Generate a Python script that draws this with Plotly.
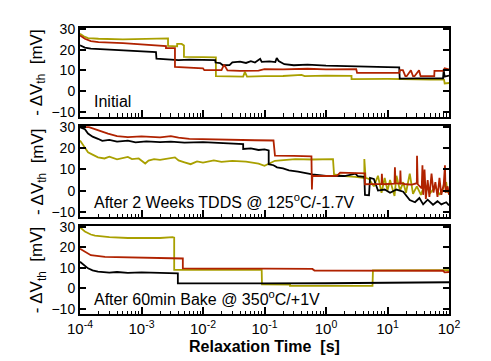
import plotly.graph_objects as go

# ---------------- data ----------------
# Panel 1: Initial
P1_BLACK_T = [1e-4, 1.2e-4, 1.5e-4, 2.5e-4, 4e-4, 7e-4, 1e-3, 1.4e-3, 1.72e-3, 1.75e-3, 2.5e-3, 4e-3, 6e-3,
              1e-2, 1.58e-2, 1.6e-2, 1.9e-2, 2.1e-2, 2.7e-2, 3e-2, 4e-2, 5e-2, 6e-2, 7e-2, 8.5e-2, 9e-2,
              0.12, 0.15, 0.158, 0.17, 0.21, 0.3, 0.5, 1.0, 2.0, 5.0, 10.0, 15.5, 15.8, 30.0, 60.0, 80.0,
              82.0, 85.0, 100.0]
P1_BLACK_V = [22.1, 21.0, 20.5, 20.2, 20.0, 19.6, 19.3, 19.1, 18.9, 15.7, 15.3, 15.0, 15.2,
              15.0, 15.0, 13.8, 13.5, 12.5, 12.6, 13.9, 14.2, 13.6, 14.5, 13.8, 15.6, 14.1,
              14.4, 14.0, 16.0, 14.5, 13.0, 12.5, 12.8, 12.3, 12.0, 11.8, 11.6, 11.5, 6.0, 6.1, 6.0, 6.2,
              10.0, 7.0, 7.5]

P1_RED_T = [1e-4, 1.2e-4, 1.5e-4, 2e-4, 5e-4, 1e-3, 1.85e-3, 2.5e-3, 2.5e-3, 3.5e-3, 3.5e-3, 6e-3, 1e-2,
            1.05e-2, 2e-2, 2.2e-2, 2.5e-2, 4e-2, 8e-2, 0.1, 0.2, 0.5, 1.0, 3.1, 3.2, 15.5,
            16.0, 17.8, 19.5, 20.5, 24.0, 26.0, 27.5, 32.6, 34.5, 57.6, 58.0, 80.0, 85.0, 100.0]
P1_RED_V = [26.9, 25.3, 24.2, 23.7, 23.2, 22.5, 21.8, 21.8, 20.8, 20.8, 11.7, 11.5, 11.0,
            10.1, 10.1, 12.8, 10.0, 9.8, 9.9, 10.6, 10.5, 10.8, 10.5, 10.6, 8.8, 8.8,
            10.1, 10.1, 7.2, 7.2, 10.1, 7.2, 7.2, 10.1, 7.2, 7.2, 9.8, 9.8, 11.0, 10.5]

P1_YEL_T = [1e-4, 1.15e-4, 1.35e-4, 2e-4, 5e-4, 1e-3, 2e-3, 2.7e-3, 2.7e-3, 3.8e-3, 3.8e-3, 4.5e-3, 4.9e-3,
            4.9e-3, 1e-2, 1.62e-2, 1.62e-2, 3e-2, 4.5e-2, 4.8e-2, 5.2e-2, 0.1, 0.2, 0.4, 0.45, 1.0, 2.6,
            2.6, 10.0, 50.0, 83.0, 85.0, 100.0]
P1_YEL_V = [27.7, 26.5, 25.6, 25.3, 25.0, 25.2, 25.4, 25.5, 21.8, 21.6, 22.8, 22.8, 22.0,
            16.5, 16.4, 16.3, 7.2, 6.9, 7.0, 9.3, 7.0, 7.2, 7.3, 7.8, 7.2, 7.5, 7.4,
            5.8, 5.9, 5.6, 5.5, 3.7, 3.9]

# Panel 2: After 2 weeks TDDS
P2_BLACK_T = [1e-4, 1.2e-4, 1.35e-4, 1.6e-4, 1.96e-4, 2.3e-4, 3e-4, 4e-4, 6e-4, 8e-4, 1.2e-3, 2e-3, 3e-3,
              5e-3, 1e-2, 2e-2, 3e-2, 4e-2, 4.5e-2, 4.5e-2, 6e-2, 8e-2, 0.1, 0.117, 0.117, 0.14, 0.16,
              0.2, 0.25, 0.35, 0.5, 0.6, 1.0, 2.0, 3.0, 3.3, 4.2, 4.3, 5.0, 5.2, 6.0, 7.0, 9.0, 11.0,
              14.0, 18.0, 23.0, 28.0, 33.0, 38.0, 45.0, 55.0, 65.0, 75.0, 90.0, 100.0]
P2_BLACK_V = [30.0, 29.0, 27.0, 25.5, 24.5, 23.5, 24.0, 23.2, 23.6, 22.8, 23.3, 22.9, 23.2,
              22.7, 22.9, 22.5, 22.3, 22.4, 22.0, 19.7, 20.0, 19.2, 19.5, 19.0, 12.5, 12.0, 11.0,
              10.5, 9.6, 9.0, 8.2, 7.7, 7.0, 6.9, 8.0, 6.8, 6.5, -2.0, -2.2, 6.0, 5.5, 0.0, 0.5, -1.0,
              0.5, -0.5, -4.5, -5.5, -3.5, -6.5, -4.3, -6.7, -5.0, -6.5, -5.5, -7.0]

P2_RED_T = [1e-4, 1.4e-4, 2e-4, 2.85e-4, 4e-4, 6e-4, 1e-3, 2e-3, 3e-3, 4e-3, 6e-3, 1e-2, 3e-2, 7e-2,
            0.14, 0.148, 0.3, 0.58, 0.59, 0.6, 1.0, 1.5, 1.7, 3.0, 4.3, 4.3, 6.0, 8.0, 8.1, 8.3, 13.0,
            13.2, 13.5, 16.0, 16.2, 16.5, 20.0, 25.0, 30.0, 30.2, 31.0, 36.0, 37.0, 38.0, 40.0, 42.0,
            45.0, 48.0, 52.0, 56.0, 60.0, 65.0, 70.0, 75.0, 82.0, 86.0, 88.0, 95.0, 100.0]
P2_RED_V = [30.0, 30.0, 28.5, 26.9, 25.8, 25.3, 25.6, 25.2, 25.8, 25.0, 24.5, 24.3, 23.9, 23.8,
            23.7, 16.5, 16.4, 16.2, 0.5, 6.9, 6.9, 7.0, 8.5, 8.3, 8.2, 3.0, 3.0, 3.2, 8.0, 3.0, 3.3,
            11.0, 3.5, 3.2, 9.5, 3.5, 3.0, 2.8, 3.5, 16.5, 3.0, 1.0, 12.0, -2.0, 10.0, -4.0,
            5.0, -3.0, 8.0, -1.0, 4.0, -3.0, 6.0, -2.0, 3.0, 12.0, -1.0, 2.0, -2.0]

P2_YEL_T = [1e-4, 1.2e-4, 1.35e-4, 1.6e-4, 1.96e-4, 2.5e-4, 3e-4, 4e-4, 5e-4, 6e-4, 7e-4, 9e-4, 1.15e-3,
            1.3e-3, 1.6e-3, 2e-3, 3.5e-3, 4e-3, 5e-3, 6.3e-3, 8e-3, 1e-2, 1.5e-2, 2e-2, 3e-2, 5e-2,
            8e-2, 0.1, 0.148, 0.2, 0.316, 0.6, 1.0, 1.3, 1.35, 2.0, 3.0, 4.2, 4.2, 4.4, 5.0, 6.0, 7.0,
            8.0, 9.0, 10.0, 11.0, 13.0, 14.0, 16.0, 18.0, 20.0, 23.0, 26.0, 30.0, 35.0, 40.0, 50.0,
            60.0, 70.0, 80.0, 90.0, 95.0, 100.0]
P2_YEL_V = [23.7, 20.5, 18.1, 17.0, 15.7, 15.2, 16.0, 14.8, 15.3, 15.9, 14.9, 15.2, 12.8,
            14.2, 14.9, 14.5, 15.7, 14.3, 13.4, 12.5, 13.8, 13.2, 14.3, 13.6, 14.1, 13.7,
            12.8, 11.7, 14.1, 14.5, 14.9, 14.7, 15.0, 14.9, 7.7, 6.8, 6.5, 6.0, 14.9, 6.0, 5.5, 2.0, 7.0,
            -1.0, 6.0, 0.0, 5.0, -2.5, 7.0, 0.0, 4.0, -1.0, 8.0, -1.5, 2.0, -2.0, 3.0, -1.0,
            2.0, -2.0, 1.0, 4.0, -1.0, 0.0]

# Panel 3: After 60 min bake
P3_BLACK_T = [1e-4, 1.15e-4, 1.35e-4, 1.6e-4, 1.96e-4, 3e-4, 4e-4, 6e-4, 1e-3, 2e-3, 3.6e-3, 3.9e-3, 3.9e-3,
              1e-2, 0.1, 1.0, 10.0, 50.0, 100.0]
P3_BLACK_V = [13.0, 11.5, 9.8, 8.8, 8.2, 7.7, 8.0, 7.6, 7.8, 7.6, 7.5, 7.3, 2.5,
              2.4, 2.4, 2.5, 2.6, 2.9, 3.0]

P3_RED_T = [1e-4, 1.2e-4, 1.5e-4, 2.55e-4, 5e-4, 1e-3, 2e-3, 4.7e-3, 4.7e-3, 1e-2, 0.1, 0.6, 0.65,
            10.0, 80.0, 85.0, 100.0]
P3_RED_V = [19.4, 17.8, 16.2, 15.4, 15.2, 14.8, 14.7, 14.6, 9.8, 9.6, 9.6, 9.5, 8.7,
            8.6, 8.6, 7.8, 8.0]

P3_YEL_T = [1e-4, 1.2e-4, 1.5e-4, 1.75e-4, 3e-4, 6e-4, 1e-3, 2e-3, 3.2e-3, 3.4e-3, 3.4e-3, 9e-2, 9.1e-2,
            0.26, 0.26, 5.7, 5.8, 100.0]
P3_YEL_V = [29.8, 27.8, 26.3, 25.8, 25.0, 24.6, 24.7, 24.6, 25.0, 24.8, 9.0, 9.0, 2.0,
            1.9, 1.2, 1.2, 8.8, 8.9]

PANEL_LABELS = ["Initial",
                "After 2 Weeks TDDS @ 125<sup>o</sup>C/-1.7V",
                "After 60min Bake @ 350<sup>o</sup>C/+1V"]
X_TICK_VALS = [1e-4, 1e-3, 1e-2, 1e-1, 1e0, 1e1, 1e2]
X_TICK_TEXT = ["10<sup>-4</sup>", "10<sup>-3</sup>", "10<sup>-2</sup>", "10<sup>-1</sup>",
               "10<sup>0</sup>", "10<sup>1</sup>", "10<sup>2</sup>"]
Y_TICK_VALS = [-10, 0, 10, 20, 30]
Y_TITLE = "- ΔV<sub>th</sub>\u00a0 [mV]"
X_TITLE = "<b>Relaxation Time\u00a0 [s]</b>"

# ---------------- figure ----------------
BLACK = "#000000"
RED = "#B02200"
YEL = "#A9A000"
FONT = "Liberation Sans, Arial, Helvetica, sans-serif"

panels = [
    [(P1_YEL_T, P1_YEL_V, YEL), (P1_BLACK_T, P1_BLACK_V, BLACK), (P1_RED_T, P1_RED_V, RED)],
    [(P2_YEL_T, P2_YEL_V, YEL), (P2_BLACK_T, P2_BLACK_V, BLACK), (P2_RED_T, P2_RED_V, RED)],
    [(P3_YEL_T, P3_YEL_V, YEL), (P3_BLACK_T, P3_BLACK_V, BLACK), (P3_RED_T, P3_RED_V, RED)],
]
domains = [[0.689, 1.0], [0.339, 0.657], [0.0, 0.308]]

fig = go.Figure()
for i, series in enumerate(panels):
    xa = "x" if i == 0 else f"x{i+1}"
    ya = "y" if i == 0 else f"y{i+1}"
    for t, v, c in series:
        fig.add_trace(go.Scatter(x=t, y=v, mode="lines", xaxis=xa, yaxis=ya,
                                 line=dict(color=c, width=1.8), hoverinfo="skip"))

layout = dict(width=491, height=361, margin=dict(l=80, r=42, t=28, b=47),
              paper_bgcolor="white", plot_bgcolor="white", showlegend=False,
              font=dict(family=FONT, color="black", size=14))
annotations = []
for i in range(3):
    xk = "xaxis" if i == 0 else f"xaxis{i+1}"
    yk = "yaxis" if i == 0 else f"yaxis{i+1}"
    ya = "y" if i == 0 else f"y{i+1}"
    layout[xk] = dict(type="log", range=[-4, 2], domain=[0, 1], anchor=ya,
                      showgrid=False, zeroline=False, showline=True, linecolor="black", linewidth=2,
                      mirror=True, ticks="inside", ticklen=7, tickwidth=1.5, tickcolor="black",
                      tickvals=X_TICK_VALS, ticktext=X_TICK_TEXT, showticklabels=(i == 2),
                      tickfont=dict(size=15, family=FONT),
                      minor=dict(ticks="inside", ticklen=3.5, tickwidth=1, tickcolor="black",
                                 dtick="D1", showgrid=False))
    if i > 0:
        layout[xk]["matches"] = "x"
    layout[yk] = dict(range=[-12.5, 30.5], domain=domains[i], anchor="x" if i == 0 else f"x{i+1}",
                      showgrid=False, zeroline=False, showline=True, linecolor="black", linewidth=2,
                      mirror="ticks", ticks="inside", ticklen=6, tickwidth=1.5, tickcolor="black",
                      tickvals=Y_TICK_VALS, tickfont=dict(size=14, family=FONT))
    yc = (domains[i][0] + domains[i][1]) / 2
    annotations.append(dict(text=Y_TITLE, xref="paper", yref="paper", x=-0.113, y=yc,
                            xanchor="center", yanchor="middle", textangle=-90, showarrow=False,
                            font=dict(size=17, family=FONT)))
    annotations.append(dict(text=PANEL_LABELS[i], xref="paper", yref=ya, x=0.033, y=-4.8,
                            xanchor="left", yanchor="middle", showarrow=False,
                            font=dict(size=16, family=FONT)))
annotations.append(dict(text=X_TITLE, xref="paper", yref="paper", x=0.5, y=-0.115,
                        xanchor="center", yanchor="middle", showarrow=False,
                        font=dict(size=16, family=FONT)))
layout["annotations"] = annotations
fig.update_layout(**layout)

fig.write_html("out.html")
